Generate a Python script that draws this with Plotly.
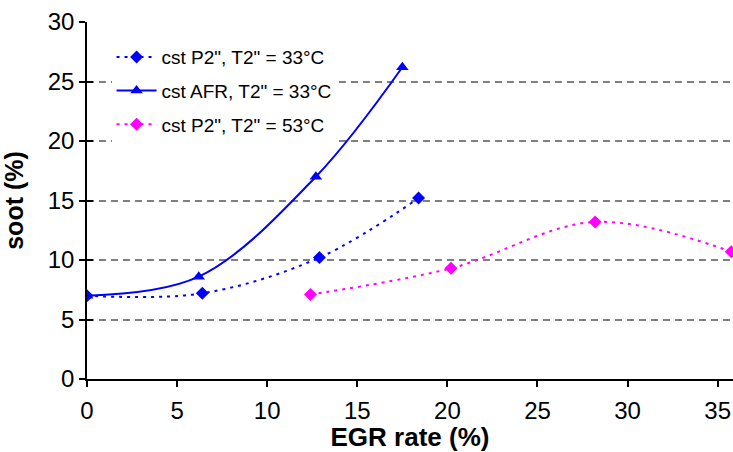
import plotly.graph_objects as go

# Soot fraction versus EGR rate for three operating strategies
egr_p2_33 = [0.0, 6.4, 12.9, 18.4]
soot_p2_33 = [7.0, 7.2, 10.2, 15.2]

egr_afr_33 = [0.0, 6.2, 12.7, 17.5]
soot_afr_33 = [7.0, 8.6, 17.0, 26.2]

egr_p2_53 = [12.4, 20.2, 28.2, 35.75]
soot_p2_53 = [7.1, 9.3, 13.2, 10.7]

names = ['cst P2", T2" = 33°C', 'cst AFR, T2" = 33°C', 'cst P2", T2" = 53°C']
y_ticks = [0, 5, 10, 15, 20, 25, 30]
x_ticks = [0, 5, 10, 15, 20, 25, 30, 35]

FONT = "Arial, Liberation Sans, sans-serif"
BLUE = "#0000FF"
MAGENTA = "#FF00FF"

fig = go.Figure()

fig.add_trace(go.Scatter(
    x=egr_p2_33, y=soot_p2_33, name=names[0], legendgroup="a",
    mode="lines+markers",
    line=dict(color=BLUE, width=2, dash="3px,5px", shape="spline", smoothing=1),
    marker=dict(symbol="diamond", size=10, color=BLUE),
))
fig.add_trace(go.Scatter(
    x=egr_afr_33, y=soot_afr_33, name=names[1], legendgroup="b",
    mode="lines+markers",
    line=dict(color=BLUE, width=2, shape="spline", smoothing=1),
    marker=dict(symbol="triangle-up", size=11, color=BLUE),
))
fig.add_trace(go.Scatter(
    x=egr_p2_53, y=soot_p2_53, name=names[2], legendgroup="c",
    mode="lines+markers",
    line=dict(color=MAGENTA, width=2, dash="3px,5px", shape="spline", smoothing=1),
    marker=dict(symbol="diamond", size=10, color=MAGENTA),
))

# Overlay axis that only carries the inner half of the crossing y ticks
fig.add_trace(go.Scatter(x=[None], y=[None], yaxis="y2", showlegend=False,
                         hoverinfo="skip"))

fig.update_layout(
    width=733, height=452,
    margin=dict(l=87, r=0, t=22, b=73, autoexpand=False),
    paper_bgcolor="white", plot_bgcolor="white",
    font=dict(family=FONT, color="black", size=24),
    showlegend=True,
    legend=dict(
        x=0.038, y=0.955, xanchor="left", yanchor="top",
        bgcolor="white", borderwidth=0,
        font=dict(family=FONT, size=19, color="black"),
        tracegroupgap=6, itemwidth=40,
    ),
    xaxis=dict(
        range=[0, 35.85], tickvals=x_ticks, ticktext=[str(v) for v in x_ticks],
        showline=True, linecolor="black", linewidth=1.5,
        ticks="outside", ticklen=6, tickcolor="black", tickwidth=1.5,
        showgrid=False, zeroline=False,
        tickfont=dict(size=24), ticklabelstandoff=3,
        title=dict(text="<b>EGR rate (%)</b>", font=dict(size=26), standoff=8),
    ),
    yaxis=dict(
        range=[0, 30], tickvals=y_ticks, ticktext=[str(v) for v in y_ticks],
        showline=True, linecolor="black", linewidth=1.5,
        ticks="outside", ticklen=6, tickcolor="black", tickwidth=1.5,
        showgrid=True, gridcolor="#808080", gridwidth=1.5, griddash="7px,5px",
        zeroline=False,
        tickfont=dict(size=24), ticklabelstandoff=0,
        title=dict(text="<b>soot (%)</b>", font=dict(size=25), standoff=18),
    ),
    yaxis2=dict(
        range=[0, 30], tickvals=y_ticks, overlaying="y", side="left",
        showticklabels=False, showgrid=False, zeroline=False,
        ticks="inside", ticklen=6, tickcolor="black", tickwidth=1.5,
        showline=False,
    ),
)

fig.write_html("out.html")
